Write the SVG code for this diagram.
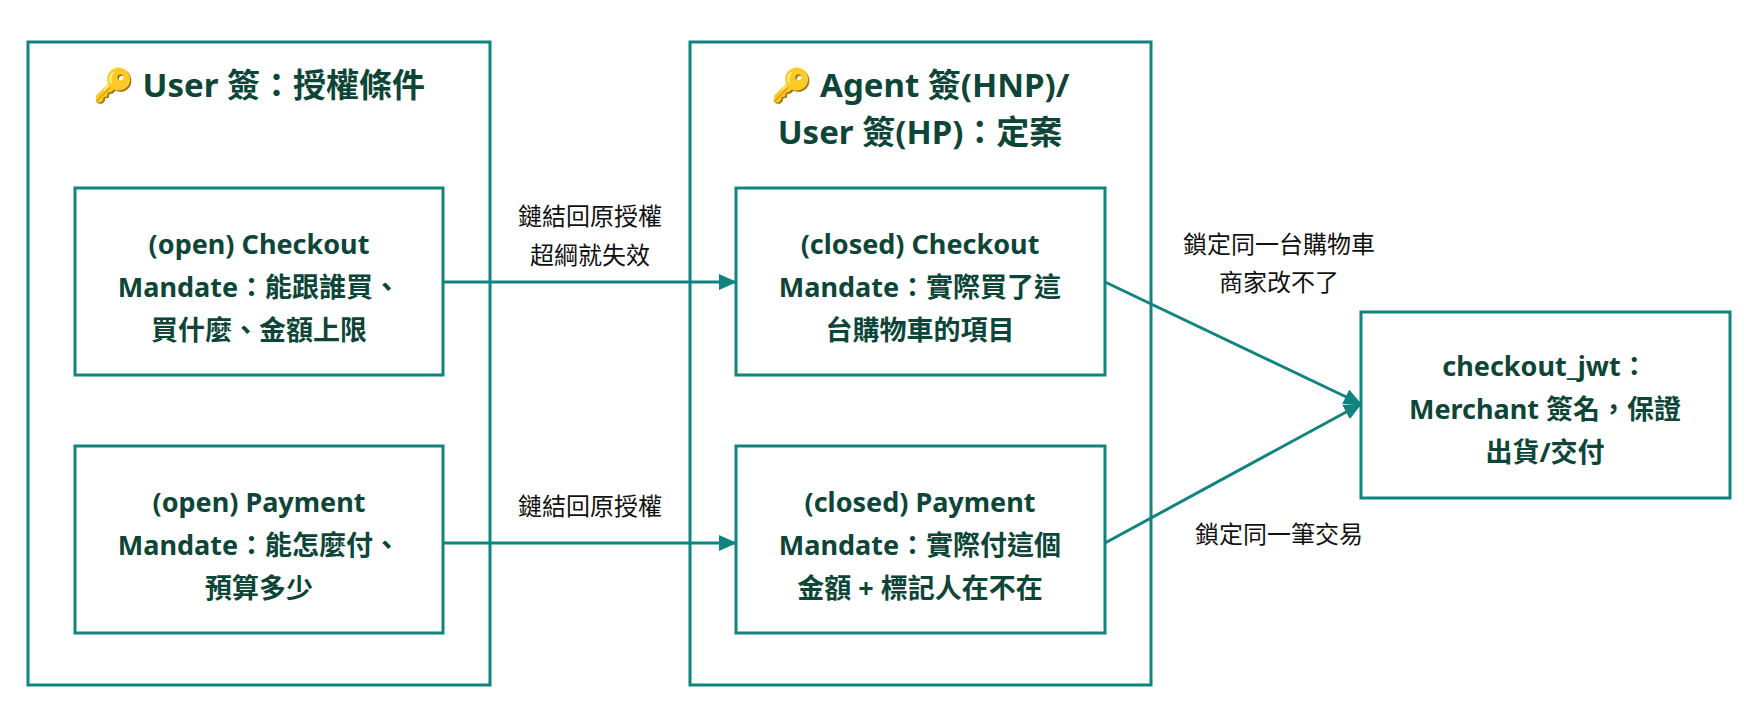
<svg xmlns="http://www.w3.org/2000/svg" width="1747" height="706" viewBox="0 0 1747 706">
<style>
rect{fill:#fff;stroke:#10847f;stroke-width:3}
.t{font-family:"Noto Sans","Noto Sans CJK TC",sans-serif;font-weight:bold;fill:#0d4638;text-anchor:middle}
.h{font-size:33px}.n{font-size:27px}
.e{font-family:"Noto Sans","Noto Sans CJK TC",sans-serif;font-size:24px;fill:#111;text-anchor:middle}
.c{stroke:#10847f;stroke-width:3;fill:none;marker-end:url(#a)}
</style>
<defs><marker id="a" markerWidth="18" markerHeight="16" refX="17" refY="8" orient="auto" markerUnits="userSpaceOnUse"><path d="M0,0L18,8L0,16z" fill="#10847f"/></marker></defs>
<rect width="1747" height="706" style="stroke:none"/>
<g id="userGroup"><rect x="28" y="42" width="462" height="643"/><text class="t h" x="259" y="97">🔑 User 簽：授權條件</text></g>
<g id="agentGroup"><rect x="690" y="42" width="461" height="643"/><text class="t h" x="920" y="97">🔑 Agent 簽(HNP)/</text><text class="t h" x="920" y="144">User 簽(HP)：定案</text></g>
<g id="openCheckout"><rect x="75" y="188" width="368" height="187"/><text class="t n" x="259" y="254">(open) Checkout</text><text class="t n" x="259" y="297">Mandate：能跟誰買、</text><text class="t n" x="259" y="340">買什麼、金額上限</text></g>
<g id="openPayment"><rect x="75" y="446" width="368" height="187"/><text class="t n" x="259" y="512">(open) Payment</text><text class="t n" x="259" y="555">Mandate：能怎麼付、</text><text class="t n" x="259" y="598">預算多少</text></g>
<g id="closedCheckout"><rect x="736" y="188" width="369" height="187"/><text class="t n" x="920" y="254">(closed) Checkout</text><text class="t n" x="920" y="297">Mandate：實際買了這</text><text class="t n" x="920" y="340">台購物車的項目</text></g>
<g id="closedPayment"><rect x="736" y="446" width="369" height="187"/><text class="t n" x="920" y="512">(closed) Payment</text><text class="t n" x="920" y="555">Mandate：實際付這個</text><text class="t n" x="920" y="598">金額 + 標記人在不在</text></g>
<g id="jwt"><rect x="1361" y="312" width="369" height="186"/><text class="t n" x="1545" y="376">checkout_jwt：</text><text class="t n" x="1545" y="419">Merchant 簽名，保證</text><text class="t n" x="1545" y="462">出貨/交付</text></g>
<g id="connectors">
<path class="c" d="M443,282H736"/>
<path class="c" d="M443,543H736"/>
<path class="c" d="M1105,282L1361,404"/>
<path class="c" d="M1105,543L1361,404"/>
<text class="e" x="590" y="225">鏈結回原授權</text><text class="e" x="590" y="264">超綱就失效</text>
<text class="e" x="590" y="515">鏈結回原授權</text>
<text class="e" x="1279" y="253">鎖定同一台購物車</text><text class="e" x="1279" y="291">商家改不了</text>
<text class="e" x="1279" y="543">鎖定同一筆交易</text>
</g>
</svg>
